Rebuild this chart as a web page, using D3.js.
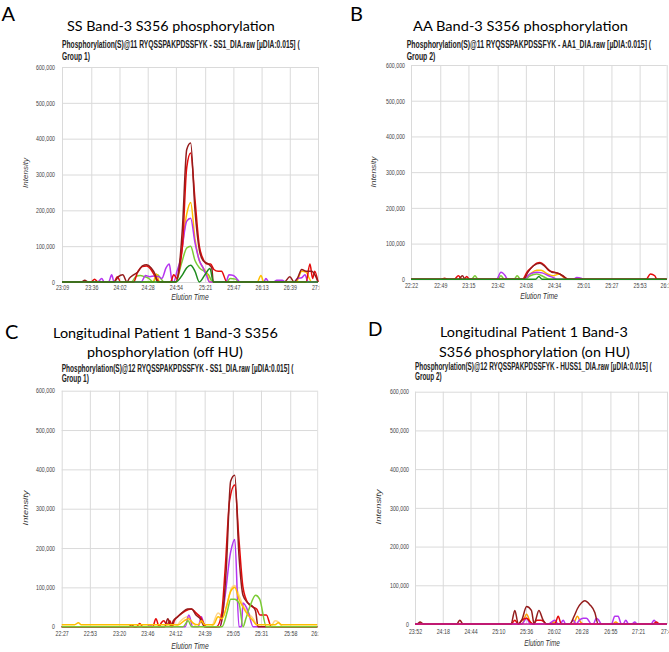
<!DOCTYPE html>
<html><head><meta charset="utf-8">
<script src="https://cdn.jsdelivr.net/npm/d3@7"></script>
<style>html,body{margin:0;padding:0;background:#fff;} svg{display:block;}</style>
</head><body><svg id="c" width="669" height="652"></svg>
<script>
// ---------------- DATA ----------------
const yTicks = [0, 100000, 200000, 300000, 400000, 500000, 600000];

const titleA = ["SS Band-3 S356 phosphorylation"];
const titleB = ["AA Band-3 S356 phosphorylation"];
const titleC = ["Longitudinal Patient 1 Band-3 S356", "phosphorylation (off HU)"];
const titleD = ["Longitudinal Patient 1 Band-3", "S356 phosphorylation (on HU)"];

const headerA = ["Phosphorylation(S)@11 RYQSSPAKPDSSFYK - SS1_DIA.raw [µDIA:0.015] (", "Group 1)"];
const headerB = ["Phosphorylation(S)@11 RYQSSPAKPDSSFYK - AA1_DIA.raw [µDIA:0.015] (", "Group 2)"];
const headerC = ["Phosphorylation(S)@12 RYQSSPAKPDSSFYK - SS1_DIA.raw [µDIA:0.015] (", "Group 1)"];
const headerD = ["Phosphorylation(S)@12 RYQSSPAKPDSSFYK - HUSS1_DIA.raw [µDIA:0.015] (", "Group 2)"];

const xTicksA = ["23:09","23:36","24:02","24:28","24:54","25:21","25:47","26:13","26:39","27:05"];
const xTicksB = ["22:22","22:49","23:15","23:42","24:08","24:34","25:01","25:27","25:53","26:18"];
const xTicksC = ["22:27","22:53","23:20","23:46","24:12","24:39","25:05","25:31","25:58","26:23"];
const xTicksD = ["23:52","24:18","24:44","25:10","25:36","26:02","26:28","26:55","27:21","27:48"];

// series: [seconds after first tick, intensity]
const aDarkRed = [[0,0],[18,0],[21,5000],[24,0],[48,0],[52,15000],[56,20000],[60,0],[62,10000],[66,20000],[70,28000],[74,45000],[78,48000],[82,40000],[86,20000],[88,0],[105,0],[108,40000],[111,150000],[115,370000],[118.6,388000],[122.6,200000],[126.6,90000],[130,60000],[135,50000],[138,40000],[139.5,0],[205,0],[210,15000],[214,0],[217,10000],[221,35000],[225,30000],[230,30000],[234,15000],[236,0]];
const aRed = [[0,0],[27,0],[30,8000],[33,0],[48,0],[51,15000],[54,0],[66,0],[70,30000],[74,43000],[78,45000],[82,35000],[86,15000],[90,0],[100,0],[103,20000],[106,10000],[109,50000],[111,100000],[115,320000],[118.6,360000],[122.6,230000],[126.6,100000],[130,65000],[134,50000],[137,50000],[140,35000],[144,30000],[147,30000],[152,0],[225,0],[228.6,50000],[231,10000],[233,30000],[236,0]];
const aOrange = [[0,0],[84,0],[87,22000],[90,0],[105,0],[110,80000],[115,190000],[118.6,222000],[122.6,120000],[126.6,60000],[130,40000],[134,20000],[136,0],[180,0],[183.4,18000],[186,0],[216,0],[221,30000],[225,28000],[228,10000],[230,0],[236,0]];
const aPurple = [[0,0],[33,0],[36.6,10000],[39,0],[43,0],[45.8,20000],[48,0],[73,0],[77,18000],[81,15000],[85,17000],[89,15000],[92,10000],[96,40000],[98.9,50000],[101,10000],[103,0],[106,30000],[109,60000],[115,170000],[118.6,178000],[122.6,110000],[126.6,60000],[130,40000],[133,20000],[136,0],[151,0],[154,20000],[158,18000],[161,10000],[164,0],[186,0],[188,10000],[190.5,0],[195,0],[198,5000],[203,5000],[206,0],[214,0],[217,10000],[221,12000],[224,20000],[227,0],[236,0]];
const aLightGreen = [[0,0],[64,0],[68,15000],[72,18000],[76,15000],[80,10000],[84,0],[88,20000],[91,10000],[94,0],[105,0],[110,50000],[115,95000],[118.6,100000],[122.6,60000],[126.6,40000],[131,30000],[135,20000],[139,0],[152,0],[155,10000],[160,8000],[163,0],[236,0]];
const aDarkGreen = [[0,0],[105,0],[111,20000],[115,40000],[118.6,47000],[122.6,30000],[126.6,0],[131.8,20000],[136.4,38000],[139.5,0],[236,0]];

const bDarkRed = [[0,0],[44,0],[47.4,10000],[50,0],[104,0],[108,20000],[113,38000],[119,45000],[124,35000],[130,20000],[135,18000],[140,10000],[145,0],[236,0]];
const bRed = [[0,0],[28,0],[31,3000],[34,0],[40,0],[43.7,10000],[47,0],[49,0],[51.4,8000],[54,0],[103,0],[107,20000],[112,35000],[116,45000],[119,47000],[123,40000],[127,25000],[132,20000],[137,15000],[142,5000],[145,0],[217,0],[221,15000],[225,10000],[227,0],[236,0]];
const bOrange = [[0,0],[104,0],[110,15000],[116,25000],[120,25000],[126,15000],[131,10000],[137,15000],[141,5000],[145,0],[236,0]];
const bPurple = [[0,0],[79,0],[83,20000],[87,10000],[89,0],[104,0],[110,15000],[116,20000],[121,18000],[127,10000],[131,5000],[135,0],[150,0],[153,5000],[157,3000],[159,0],[236,0]];
const bLightGreen = [[0,0],[56,0],[59,10000],[62,0],[80,0],[83,10000],[86,0],[95,0],[98,10000],[101,0],[105,0],[110,10000],[116,15000],[122,8000],[128,0],[236,0]];
const bDarkGreen = [[0,0],[115,0],[118,8000],[121,0],[236,0]];

const cDarkRed = [[0,0],[62,0],[64.5,5000],[67,0],[95,0],[98,20000],[101,0],[103,15000],[107,25000],[111,35000],[116,45000],[120,45000],[124,30000],[128,20000],[132,0],[146,0],[149,40000],[152,150000],[156,370000],[159.8,385000],[163.7,180000],[167.4,80000],[172,60000],[176.7,50000],[179,40000],[181.3,0],[236,0]];
const cRed = [[0,0],[69,0],[72,8000],[75,0],[84,0],[87,20000],[90,0],[92,10000],[94.3,15000],[97,5000],[100,15000],[102,0],[104,15000],[109,30000],[114,40000],[119.8,45000],[124,35000],[128,25000],[133.6,0],[143,0],[147.5,30000],[151,150000],[155,320000],[159.8,360000],[163.7,220000],[167.4,100000],[172,60000],[176.7,50000],[180,45000],[183,30000],[189,30000],[193.5,0],[236,0]];
const cPurple = [[0,0],[79,0],[81.4,5000],[84,0],[114,0],[117.4,30000],[121,0],[126,0],[129,25000],[132,0],[146,0],[150,60000],[156,190000],[159.8,222000],[163.7,0],[165.9,0],[167.4,60000],[172,40000],[176.7,0],[236,0]];
const cOrange = [[0,5000],[12,5000],[15.4,10000],[18,5000],[108,5000],[113,15000],[117,20000],[121,10000],[126,5000],[129,15000],[132,5000],[140,5000],[144.4,25000],[148,20000],[152,50000],[156,90000],[159.8,100000],[163.7,70000],[167.4,50000],[172,30000],[176.7,15000],[180,5000],[197,5000],[200,10000],[203,5000],[236,5000]];
const cPaleOrange = [[0,0],[105,0],[110,15000],[116,25000],[121,10000],[125,0],[138,0],[144.4,35000],[149,25000],[153,60000],[157,100000],[159.8,105000],[163.7,80000],[167.4,55000],[172,35000],[177,20000],[181,0],[193,0],[197,15000],[200,12000],[204,0],[236,0]];
const cLightGreen = [[0,0],[112,0],[116.7,15000],[120,0],[148,0],[153,40000],[156,70000],[159.8,70000],[163.7,60000],[167.4,0],[170,20000],[173.6,50000],[179.1,80000],[182.8,70000],[189,0],[236,0]];

const dDarkRed = [[0,0],[2,0],[4.7,5000],[8,0],[39,0],[42,10000],[45,0],[90,0],[93.5,35000],[96.7,0],[100,10000],[104.5,45000],[109,35000],[111.6,0],[113,10000],[116,35000],[120,10000],[123,0],[145,0],[149,20000],[152.2,40000],[156,55000],[159,60000],[163.7,50000],[168.4,30000],[171.5,0],[236,0]];
const dRed = [[0,0],[90,0],[93.5,10000],[96.7,0],[100,10000],[104.5,15000],[108,5000],[111,0],[114,10000],[118,10000],[121,5000],[123.2,0],[131,0],[134.1,20000],[137,0],[223,0],[226,5000],[229,0],[236,0]];
const dOrange = [[0,0],[100,0],[104.5,25000],[108,5000],[110,0],[127,0],[130,5000],[134,0],[148,0],[152.2,20000],[155,5000],[158,0],[185,0],[188,5000],[191,0],[236,0]];
const dPurple = [[0,0],[100,0],[104.5,15000],[108,0],[125,0],[127.8,5000],[131,10000],[134,0],[136,0],[138.8,10000],[141,0],[145,0],[148.1,10000],[151,0],[154,10000],[157.5,15000],[160.6,15000],[165.3,0],[167,0],[169.9,15000],[172,10000],[174.6,0],[184,0],[187.1,20000],[190.2,20000],[193.3,0],[195,0],[197.4,10000],[200,0],[203,0],[205.8,5000],[208,0],[221,0],[223.9,10000],[227,0],[236,0]];
const dMagenta = [[0,0],[236,0]];

// ---------------- STYLE / LAYOUT ----------------
const COL = {darkRed:"#941c1c", red:"#e50a0a", orange:"#ffbf00", paleOrange:"#ffd68a", purple:"#b535f0",
             lightGreen:"#7acb34", darkGreen:"#1e8c1e", magenta:"#c81a8e", dOrange:"#ff9d00"};

const panels = [
  {letter:"A", letterPos:[1.5,21,20], title:titleA, titlePos:[[67,31,208]],
   header:headerA, headerPos:[62,48.3,59.5,238],
   plot:{l:62,r:318,t:67,b:282}, clip:[0,319.5], xTicks:xTicksA,
   series:[[aLightGreen,COL.lightGreen],[aOrange,COL.orange],[aPurple,COL.purple],[aRed,COL.red],[aDarkRed,COL.darkRed],[aDarkGreen,COL.darkGreen]],
   yLabelRight:55, xLabelBase:290.3, yTitle:[27.5,173,30], xTitle:[190,299.5,37.5]},
  {letter:"B", letterPos:[350,21,20], title:titleB, titlePos:[[413,31,215]],
   header:headerB, headerPos:[406.7,48.3,59.5,245],
   plot:{l:411,r:666.7,t:65,b:279.3}, clip:[335,669], xTicks:xTicksB,
   series:[[bLightGreen,COL.lightGreen],[bOrange,COL.orange],[bPurple,COL.purple],[bRed,COL.red],[bDarkRed,COL.darkRed],[bDarkGreen,COL.darkGreen]],
   yLabelRight:405, xLabelBase:287.5, yTitle:[375.5,172,31], xTitle:[539,299,37.7]},
  {letter:"C", letterPos:[5,339,20], title:titleC, titlePos:[[53,338,225],[87,356.5,156]],
   header:headerC, headerPos:[61.7,371.5,382,232],
   plot:{l:61.7,r:317.3,t:390.7,b:626.7}, clip:[0,318.5], xTicks:xTicksC,
   series:[[cPaleOrange,COL.paleOrange],[cPurple,COL.purple],[cRed,COL.red],[cDarkRed,COL.darkRed],[cLightGreen,COL.lightGreen],[cOrange,COL.orange]],
   yLabelRight:55, xLabelBase:636.3, yTitle:[27.5,508,35], xTitle:[190,649,37.3]},
  {letter:"D", letterPos:[368,336,19], title:titleD, titlePos:[[440,337,188],[439,356.5,191]],
   header:headerD, headerPos:[415,369.5,380,237],
   plot:{l:415,r:667,t:391.7,b:624}, clip:[335,669], xTicks:xTicksD,
   series:[[dOrange,COL.dOrange],[dPurple,COL.purple],[dRed,COL.red],[dDarkRed,COL.darkRed],[dMagenta,COL.magenta]],
   yLabelRight:409, xLabelBase:633.5, yTitle:[380.5,507,35], xTitle:[542,646,35.7]}
];

const SANS = "'Liberation Sans', Arial, sans-serif";
const TITLE_FONT = "Lato, 'Open Sans', sans-serif";
const svg = d3.select("#c");
const defs = svg.append("defs");

function toSec(s){ const p = s.split(":"); return (+p[0])*60 + (+p[1]); }

function label(g, str, x, y, o) {
  const t = g.append("text").text(str)
    .attr("font-family", o.family || SANS)
    .attr("font-size", o.size)
    .attr("font-weight", o.weight || "normal")
    .attr("font-style", o.style || "normal")
    .attr("fill", o.fill || "#000")
    .attr("text-anchor", o.anchor || "start");
  let sx = o.sx || 1;
  if (o.width) sx = o.width / t.node().getComputedTextLength();
  t.attr("transform", `translate(${x},${y}) rotate(${o.rotate || 0}) scale(${sx},1)`);
  return sx;
}

panels.forEach((p, pi) => {
  const cid = "clip" + pi;
  defs.append("clipPath").attr("id", cid).append("rect")
    .attr("x", p.clip[0]).attr("y", 0).attr("width", p.clip[1] - p.clip[0]).attr("height", 652);
  const g = svg.append("g").attr("clip-path", `url(#${cid})`);

  // letter + title
  label(g, p.letter, p.letterPos[0], p.letterPos[1], {size:p.letterPos[2], family:TITLE_FONT});
  p.title.forEach((line, i) => {
    const tp = p.titlePos[i];
    label(g, line, tp[0], tp[1], {size:14, family:TITLE_FONT, width:tp[2]});
  });
  // header
  const hp = p.headerPos;
  const sx = label(g, p.header[0], hp[0], hp[1], {size:10.5, weight:"bold", fill:"#222", width:hp[3]});
  label(g, p.header[1], hp[0], hp[2], {size:10.5, weight:"bold", fill:"#222", sx:sx});

  const t0 = toSec(p.xTicks[0]);
  const tickSecs = p.xTicks.map(s => toSec(s) - t0);
  const x = d3.scaleLinear().domain([0, tickSecs[tickSecs.length - 1]]).range([p.plot.l, p.plot.r]);
  const y = d3.scaleLinear().domain([0, 600000]).range([p.plot.b, p.plot.t]);

  // grid
  const gx = g.append("g").attr("transform", `translate(0,${p.plot.b})`)
    .call(d3.axisBottom(x).tickValues(tickSecs).tickSize(-(p.plot.b - p.plot.t)).tickFormat(""));
  gx.select(".domain").remove();
  gx.selectAll("line").attr("stroke", "#dadada").attr("stroke-width", 1);
  const gy = g.append("g").attr("transform", `translate(${p.plot.l},0)`)
    .call(d3.axisLeft(y).tickValues(yTicks).tickSize(-(p.plot.r - p.plot.l)).tickFormat(""));
  gy.select(".domain").remove();
  gy.selectAll("line").attr("stroke", "#dadada").attr("stroke-width", 1);

  // tick labels
  const TSX = 0.81;
  const ly = g.append("g").attr("transform", `translate(${p.yLabelRight},0)`)
    .call(d3.axisLeft(y).tickValues(yTicks).tickSize(0).tickPadding(0).tickFormat(d3.format(",")));
  ly.select(".domain").remove();
  ly.selectAll("text").attr("x", 0).attr("dy", "0.35em")
    .attr("font-family", SANS).attr("font-size", 6.5).attr("fill", "#444")
    .attr("text-anchor", "end").attr("transform", `scale(${TSX},1)`);
  const lx = g.append("g").attr("transform", `translate(0,${p.xLabelBase})`)
    .call(d3.axisBottom(x).tickValues(tickSecs).tickSize(0).tickPadding(0).tickFormat((d, i) => p.xTicks[i]));
  lx.select(".domain").remove();
  lx.selectAll("text").attr("y", 0).attr("dy", "0")
    .attr("font-family", SANS).attr("font-size", 6.5).attr("fill", "#444")
    .attr("transform", `scale(${TSX},1)`)
    .each(function(){ /* keep center under tick after scale */ d3.select(this).attr("x", 0); });
  // compensate scale around tick origin: tick groups are translated, so scale acts locally -> fine

  // axis titles
  label(g, "Intensity", p.yTitle[0], p.yTitle[1], {size:8, style:"italic", fill:"#333", anchor:"middle", rotate:-90, width:p.yTitle[2]});
  label(g, "Elution Time", p.xTitle[0], p.xTitle[1], {size:8.5, style:"italic", fill:"#333", anchor:"middle", width:p.xTitle[2]});

  // series
  const line = d3.line().x(d => x(d[0])).y(d => y(d[1])).curve(d3.curveMonotoneX);
  p.series.forEach(([data, color]) => {
    g.append("path").datum(data).attr("d", line)
      .attr("fill", "none").attr("stroke", color).attr("stroke-width", 1.5)
      .attr("stroke-linejoin", "round");
  });
});
</script></body></html>
